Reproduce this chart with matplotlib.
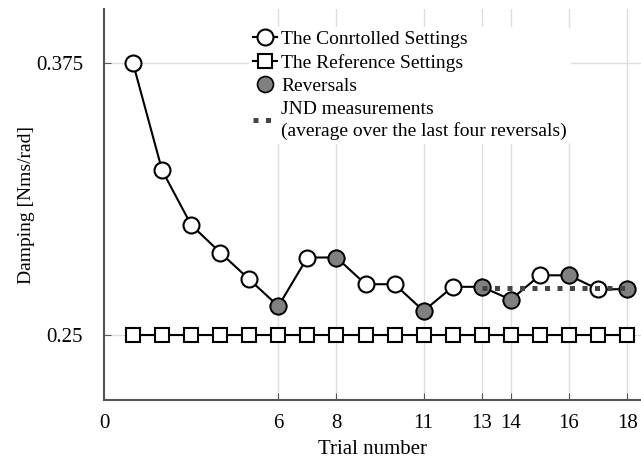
import numpy as np
import matplotlib
matplotlib.use("Agg")
import matplotlib.pyplot as plt

plt.rcParams['font.family'] = ['Liberation Serif', 'DejaVu Serif']

# staircase data
trials = list(range(1, 19))
controlled = [0.375, 0.3257, 0.3006, 0.2879, 0.2755, 0.2632, 0.2856, 0.2856, 0.2733,
              0.2733, 0.261, 0.2721, 0.2721, 0.2662, 0.2774, 0.2774, 0.271, 0.271]
reference = [0.25] * 18
reversal_trials = [6, 8, 11, 13, 14, 16, 18]
jnd_trials = [13, 18]

reversal_vals = [controlled[t - 1] for t in reversal_trials]
jnd_value = np.mean(reversal_vals[-4:])

xticks = [0, 6, 8, 11, 13, 14, 16, 18]
yticks = [0.25, 0.375]

fig = plt.figure(figsize=(6.41, 4.61), dpi=100)
ax = fig.add_axes([104 / 641, 1 - 400 / 461, 537 / 641, 391 / 461])

for x in xticks[1:]:
    ax.axvline(x, color='#dddddd', lw=1, zorder=0)
for y in yticks:
    ax.axhline(y, color='#dddddd', lw=1, zorder=0)

ax.plot(trials, controlled, '-o', color='black', lw=1.5, ms=11.5, mfc='white',
        mec='black', mew=1.5, label='The Conrtolled Settings', zorder=3)
ax.plot(trials, reference, '-s', color='black', lw=1.5, ms=10, mfc='white',
        mec='black', mew=1.5, label='The Reference Settings', zorder=3)
ax.plot(reversal_trials, reversal_vals, 'o', ms=11.5, mfc='#808080', mec='black',
        mew=1.2, label='Reversals', zorder=4)
ax.plot(jnd_trials, [jnd_value] * 2, color='#444444', lw=3.6, dashes=(1, 1.5),
        label='JND measurements\n(average over the last four reversals)', zorder=5)

ax.set_xlim(0, 18.48)
ax.set_ylim(0.22, 0.4)
ax.set_xticks(xticks)
ax.set_yticks(yticks)
ax.set_yticklabels(['0.25', '0.375'])
ax.tick_params(direction='in', length=5, color='#555555', labelsize=15, pad=10)
ax.tick_params(axis='y', pad=15)

for side in ['top', 'right']:
    ax.spines[side].set_visible(False)
for side in ['left', 'bottom']:
    ax.spines[side].set_color('#555555')
    ax.spines[side].set_linewidth(1.5)

ax.set_xlabel('Trial number', fontsize=15, labelpad=5)
ax.set_ylabel('Damping [Nms/rad]', fontsize=14, labelpad=1)

leg = ax.legend(loc='upper left', bbox_to_anchor=(0.27, 0.955), frameon=True,
                fontsize=14, handlelength=1.25, handletextpad=0.2,
                labelspacing=0.3, borderpad=0.2, borderaxespad=0.0)
leg.get_frame().set_edgecolor('none')
leg.get_frame().set_facecolor('white')
leg.get_frame().set_alpha(1)
leg.get_texts()[3].set_linespacing(1.3)

fig.savefig('out.png', dpi=100)
